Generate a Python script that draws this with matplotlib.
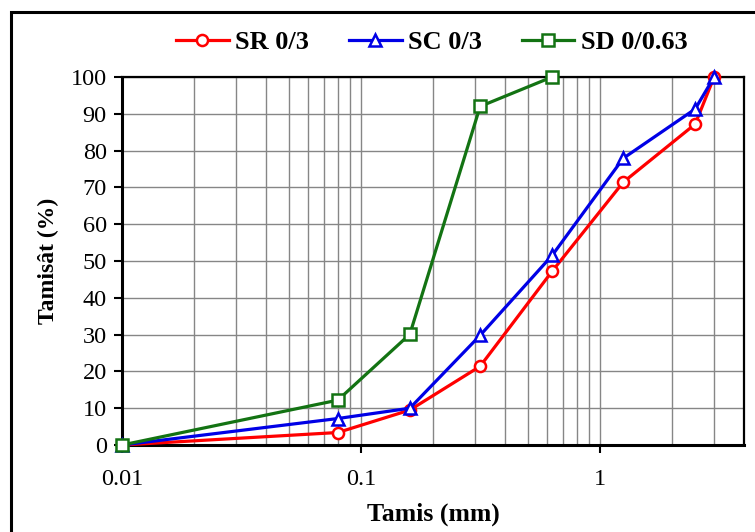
import matplotlib
matplotlib.use("Agg")
import matplotlib.pyplot as plt
from matplotlib.ticker import LogLocator, FixedLocator, FixedFormatter, NullFormatter
from matplotlib.patches import Rectangle

plt.rcParams['font.family'] = ['Liberation Serif', 'DejaVu Serif']

sieves_sr = [0.01, 0.08, 0.16, 0.315, 0.63, 1.25, 2.5, 3.0]
sr = [0, 3.4, 9.5, 21.4, 47.2, 71.4, 87.2, 100]
sieves_sc = [0.01, 0.08, 0.16, 0.315, 0.63, 1.25, 2.5, 3.0]
sc = [0, 7.2, 10, 29.8, 51.5, 77.9, 91.3, 100]
sieves_sd = [0.01, 0.08, 0.16, 0.315, 0.63]
sd = [0, 12.2, 30.1, 92, 100]

series_names = ['SR 0/3', 'SC 0/3', 'SD 0/0.63']
colors = ['#FF0000', '#0000E6', '#137313']
markers = ['o', '^', 's']

x_ticks = [0.01, 0.1, 1]
x_tick_labels = ['0.01', '0.1', '1']
y_ticks = list(range(0, 101, 10))

fig = plt.figure(figsize=(7.55, 5.32), dpi=100)
ax = fig.add_axes([0.1616, 0.1635, 0.8238, 0.6918])

for xs, ys, name, c, m in zip([sieves_sr, sieves_sc, sieves_sd], [sr, sc, sd],
                              series_names, colors, markers):
    ax.plot(xs, ys, color=c, lw=2.3, marker=m, markersize=8 if m != '^' else 8.5,
            markerfacecolor='white', markeredgecolor=c, markeredgewidth=1.8,
            label=name, clip_on=False, zorder=3)

ax.set_xscale('log')
ax.set_xlim(0.01, 4)
ax.set_ylim(0, 100)
ax.xaxis.set_major_locator(FixedLocator(x_ticks))
ax.xaxis.set_major_formatter(FixedFormatter(x_tick_labels))
ax.xaxis.set_minor_locator(LogLocator(base=10, subs=range(2, 10)))
ax.xaxis.set_minor_formatter(NullFormatter())
ax.set_yticks(y_ticks)

ax.grid(True, which='both', axis='x', color='#868686', lw=1.0)
ax.grid(True, which='major', axis='y', color='#868686', lw=1.0)
ax.set_axisbelow(True)

ax.tick_params(axis='both', which='major', direction='out', length=6, width=1.5,
               labelsize=17.5, colors='black')
ax.tick_params(axis='x', which='minor', length=0)
ax.tick_params(axis='x', which='major', pad=11)
ax.tick_params(axis='y', which='major', pad=5)
for s in ['left', 'bottom']:
    ax.spines[s].set_linewidth(2.2)
for s in ['top', 'right']:
    ax.spines[s].set_linewidth(1.6)

ax.set_xlabel('Tamis (mm)', fontsize=18.5, fontweight='bold', labelpad=9)
ax.set_ylabel('Tamisât (%)', fontsize=17, fontweight='bold', labelpad=8)

leg = fig.legend(loc='center', bbox_to_anchor=(0.572, 0.92), ncol=3, frameon=False,
                 prop={'weight': 'bold', 'size': 19}, handlelength=2.0,
                 columnspacing=1.5, handletextpad=0.25)

fig.patches.append(Rectangle((11 / 755, -0.1), 1.2, 1 - 12 / 532 + 0.1,
                             transform=fig.transFigure, fill=False,
                             edgecolor='black', lw=2.2))

fig.savefig('out.png', dpi=100)
